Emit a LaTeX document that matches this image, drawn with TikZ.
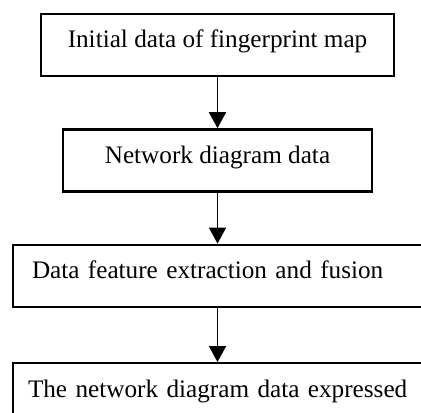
\documentclass[tikz,border=0pt]{standalone}
\usepackage{fontspec}
\setmainfont{Liberation Serif}
\usetikzlibrary{positioning}
\usetikzlibrary{arrows.meta}
\tikzstyle{block} = [rectangle, draw=black, line width=1.2pt, inner sep=0pt, minimum height=31pt, text height=9.4pt, text depth=6.6pt, font=\fontsize{12.6}{15}\selectfont, node distance=25.5pt]

\begin{document}
\begin{tikzpicture}[flow/.style={-{Triangle[width=8.5pt,length=8pt]}, line width=0.9pt}]
\useasboundingbox (0,0) rectangle (210.5pt,-206pt);
\clip (0,0) rectangle (210.5pt,-206pt);

% Define nodes
\node[block, minimum width=176.5pt] (init) at (108.75pt,-22.5pt) {Initial data of fingerprint map};
\node[block, minimum width=154.5pt, below = of init]            (net)  {Network diagram data};
\node[block, below = of net.south west, anchor=north west, xshift=-25pt,
      text width=211pt, inner xsep=9.5pt, align=left]           (feat) {Data feature extraction and fusion};
\node[block, below = 27pt of feat.south west, anchor=north west,
      text width=215pt, inner xsep=7.5pt, align=left]           (expr) {The network diagram data expressed};

% Edges
\draw[flow] (init) -- (net);
\draw[flow] (net.south) -- (net.south |- feat.north);
\draw[flow] (net.south |- feat.south) -- (net.south |- expr.north);
\end{tikzpicture}
\end{document}
